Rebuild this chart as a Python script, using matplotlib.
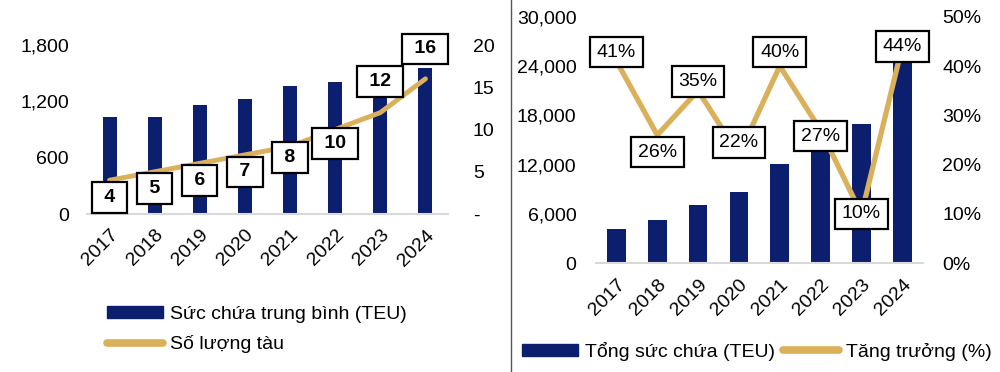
import numpy as np
import matplotlib
matplotlib.use('Agg')
import matplotlib.pyplot as plt
from matplotlib.lines import Line2D
from matplotlib.patches import Patch

plt.rcParams['font.family'] = ['Liberation Sans', 'DejaVu Sans']

years = ['2017', '2018', '2019', '2020', '2021', '2022', '2023', '2024']

# left chart: average capacity (bars) and number of ships (line)
avg_capacity = [1030, 1036, 1160, 1222, 1360, 1406, 1480, 1558]
ship_count = [4, 5, 6, 7, 8, 10, 12, 16]
ship_label_offset = [-17, -17, -17, -17, -11, -14, 31, 30]  # px, box vs line

# right chart: total capacity (bars) and growth (line)
total_capacity = [4140, 5230, 7060, 8640, 12120, 15400, 16900, 24350]
growth = [41, 26, 35, 22, 40, 27, 10, 44]
growth_label_offset = [9, -17, 9, 12, 14, -6, 0, 0]

navy = '#0b1f6e'
gold = '#dbb05b'
base = '#d9d9d9'

fig = plt.figure(figsize=(10, 3.72), dpi=100)
x = np.arange(len(years))
fs = 14


def style(ax):
    for s in ['top', 'left', 'right']:
        ax.spines[s].set_visible(False)
    ax.spines['bottom'].set_color(base)
    ax.spines['bottom'].set_linewidth(1.5)
    ax.tick_params(length=0, labelsize=fs)
    ax.set_xlim(-0.5, 7.5)
    ax.set_xticks(x)
    ax.set_xticklabels(years, rotation=45, ha='right', rotation_mode='anchor')
    ax.tick_params(axis='x', pad=9)


def box_label(ax, xi, yi, text, dy, bold):
    ax.annotate(text, (xi, yi), xytext=(0, dy * 0.72), textcoords='offset points',
                ha='center', va='center', fontsize=fs, fontweight='bold' if bold else 'normal',
                bbox=dict(boxstyle='square,pad=0.35', fc='white', ec='black', lw=1.6),
                zorder=5)


# ---- left chart
ax1 = fig.add_axes([0.087, 0.4247, 0.361, 0.4543])
style(ax1)
ax1.bar(x, avg_capacity, width=0.31, color=navy, zorder=2)
ax1.set_ylim(0, 1800)
ax1.set_yticks([0, 600, 1200, 1800])
ax1.set_yticklabels(['0', '600', '1,200', '1,800'])
ax1.tick_params(axis='y', pad=13)
ax1b = ax1.twinx()
for s in ['top', 'left', 'right', 'bottom']:
    ax1b.spines[s].set_visible(False)
ax1b.plot(x, ship_count, color=gold, lw=3.5, solid_capstyle='round', zorder=3)
ax1b.set_ylim(0, 20)
ax1b.set_yticks([0, 5, 10, 15, 20])
ax1b.set_yticklabels(['-', '5', '10', '15', '20'])
ax1b.tick_params(length=0, labelsize=fs, pad=18)
for xi, v, dy in zip(x, ship_count, ship_label_offset):
    box_label(ax1b, xi, v, ' {} '.format(v), dy, True)

fig.legend(handles=[Patch(color=navy, label='Sức chứa trung bình (TEU)'),
                    Line2D([], [], color=gold, lw=5.5, solid_capstyle='round', label='Số lượng tàu')],
           loc='upper left', bbox_to_anchor=(0.107, 0.178),
           frameon=False, fontsize=fs, handlelength=2.9, handleheight=0.55, handletextpad=0.35,
           labelspacing=0.65, borderaxespad=0, borderpad=0)

# separator
fig.add_artist(Line2D([0.511, 0.511], [0, 1], color='#555555', lw=1, transform=fig.transFigure))

# ---- right chart
ax2 = fig.add_axes([0.596, 0.2922, 0.3267, 0.6629])
style(ax2)
ax2.bar(x, total_capacity, width=0.46, color=navy, zorder=2)
ax2.set_ylim(0, 30000)
ax2.set_yticks(range(0, 30001, 6000))
ax2.set_yticklabels(['{:,}'.format(v) for v in range(0, 30001, 6000)])
ax2.tick_params(axis='y', pad=14)
ax2b = ax2.twinx()
for s in ['top', 'left', 'right', 'bottom']:
    ax2b.spines[s].set_visible(False)
ax2b.plot(x, growth, color=gold, lw=3.8, zorder=3)
ax2b.set_ylim(0, 50)
ax2b.set_yticks(range(0, 51, 10))
ax2b.set_yticklabels(['{}%'.format(v) for v in range(0, 51, 10)])
ax2b.tick_params(length=0, labelsize=fs, pad=14)
for xi, v, dy in zip(x, growth, growth_label_offset):
    box_label(ax2b, xi, v, '{}%'.format(v), dy, False)

fig.legend(handles=[Patch(color=navy, label='Tổng sức chứa (TEU)'),
                    Line2D([], [], color=gold, lw=5.5, solid_capstyle='round', label='Tăng trưởng (%)')],
           loc='center left', bbox_to_anchor=(0.522, 0.056), ncol=2,
           frameon=False, fontsize=fs, handlelength=2.9, handleheight=0.55, handletextpad=0.35,
           columnspacing=0.4, borderaxespad=0, borderpad=0)

fig.savefig('out.png', dpi=100)
